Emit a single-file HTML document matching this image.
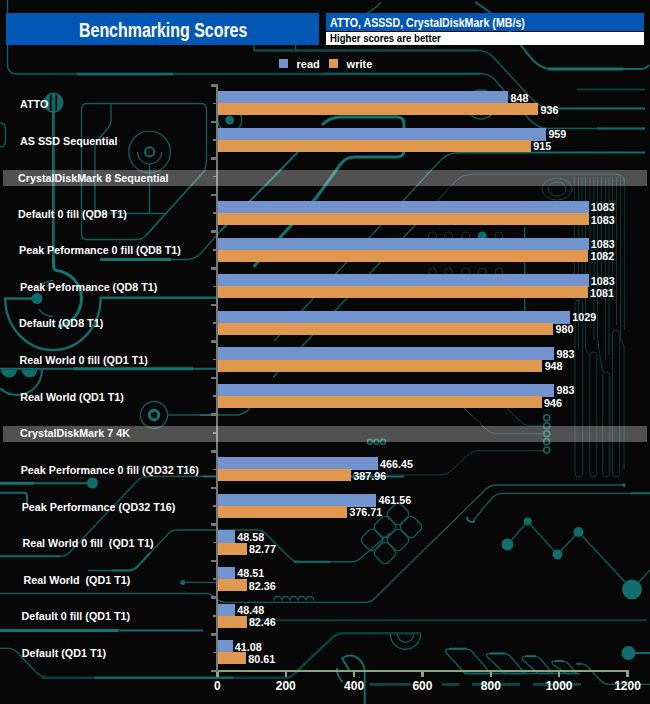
<!DOCTYPE html>
<html><head><meta charset="utf-8"><title>Benchmarking Scores</title>
<style>
html,body{margin:0;padding:0;background:#080707;}
body{width:650px;height:704px;position:relative;overflow:hidden;font-family:"Liberation Sans",sans-serif;color:#fff;font-weight:bold;}
#bg{position:absolute;left:0;top:0;width:650px;height:704px;}
.abs{position:absolute;}
.hdr1{position:absolute;left:6px;top:13px;width:313px;height:32px;background:#0358b6;}
.hdr1 span{position:absolute;left:73.3px;top:5.5px;font-size:20px;line-height:23px;white-space:nowrap;transform-origin:0 50%;transform:scaleX(0.797);}
.hdr2{position:absolute;left:325.5px;top:13px;width:318px;height:18px;background:#0358b6;}
.hdr2 span{position:absolute;left:4px;top:2.5px;font-size:12.5px;line-height:14px;white-space:nowrap;transform-origin:0 50%;transform:scaleX(0.851);}
.hdr3{position:absolute;left:325.5px;top:32px;width:318px;height:13px;background:#fff;color:#000;}
.hdr3 span{position:absolute;left:4px;top:-0.5px;font-size:11.5px;line-height:13px;white-space:nowrap;transform-origin:0 50%;transform:scaleX(0.837);}
.lg{position:absolute;width:8.5px;height:8.5px;top:59px;}
.lgt{position:absolute;font-size:11px;line-height:13px;top:57.5px;white-space:nowrap;}
.band{position:absolute;left:3px;width:644.3px;height:15.6px;background:rgba(255,255,255,0.30);}
.bt{position:absolute;font-size:10.75px;line-height:13px;white-space:nowrap;}
.lbl{position:absolute;font-size:10.75px;line-height:13px;white-space:nowrap;}
.val{position:absolute;font-size:10.75px;line-height:13px;white-space:nowrap;}
.bar{position:absolute;left:218px;height:12.15px;}
.r{background:#7294ce;}
.w{background:#e0974e;}
.yax{position:absolute;left:215.7px;top:84px;width:2.7px;height:587.5px;background:#787878;}
.tk{position:absolute;left:211px;width:5px;background:#787878;}
.xax{position:absolute;left:216px;top:669.7px;width:413px;height:2.6px;background:#8aa67c;}
.xt{position:absolute;top:672px;width:2.5px;height:4.9px;background:#8aa67c;}
.xl{position:absolute;top:680px;width:60px;text-align:center;font-size:12px;line-height:13px;}
</style></head><body>
<svg id="bg" width="650" height="704" viewBox="0 0 650 704">
<style>
.a{fill:none;stroke:#115c5c;stroke-width:1.35}
.a2{fill:none;stroke:#0d4444;stroke-width:1}
.b{fill:none;stroke:#126c6c;stroke-width:2}
.c{fill:none;stroke:#137474;stroke-width:3}
.d{fill:none;stroke:#0b3f3f;stroke-width:2}
.f{fill:#116c6c;stroke:none}
</style>
<!-- frame top-left -->
<path class="a" d="M7.5 0V64Q7.5 74 17.500 74"/>
<path class="d" style="stroke-width:2.7;stroke:#0c4a4a" d="M15 74H480"/>
<path class="b" style="stroke-width:2.7" d="M77 74H173"/>
<path class="a" d="M254 45V50.500M295.500 45V50.500"/>
<path class="a" d="M367 13Q375 9 381 2"/>
<!-- top right curves -->
<path class="b" d="M475 2Q495 14 514 36Q524 50 533 60Q541 69 552 69H640Q646 69 649 65"/><path class="c" d="M548 69H623"/>
<path class="d" style="stroke-width:2.7;stroke:#0c4a4a" d="M254 50.500H478"/><path class="a" d="M478 50.500Q487 50.500 493 57L531 98Q540 108.500 552 108.500"/><path class="b" d="M552 108.500H645"/>
<path class="a" d="M325 73.500H480Q489 73.500 495 80L528 118Q537 128.500 548 128.500H645"/>
<path class="b" d="M597 128.500H645"/>
<path class="d" d="M577 89.500H645"/>
<path class="b" d="M456 152.500H645"/>
<circle class="a" cx="481" cy="104.500" r="14.500"/>
<!-- ATTO circle + vertical -->
<circle cx="53.500" cy="102.600" r="9.300" style="fill:#136a6a;stroke:#136a6a;stroke-width:1"/>
<path d="M50.700 93.500V111.500M56.300 93.500V111.500" style="stroke:#080707;stroke-width:1.700;fill:none"/>
<circle cx="53.500" cy="102.600" r="9.300" style="fill:none;stroke:#136a6a;stroke-width:1.5"/>
<path class="b" style="stroke-width:2.8;stroke:#116464" d="M53.400 93V258"/>
<path class="a" d="M0 123Q5.500 123 5.500 129V141Q5.500 147 0 147"/>
<!-- hdd shape -->
<path class="a" d="M87 103.500H201Q206.500 103.500 206.500 109V157Q206.500 165 204.800 170.500L146 235.500Q142.500 239.500 137 239.500H87Q81.500 239.500 81.500 234V109Q81.500 103.500 87 103.500Z"/><path class="a" style="stroke-width:1.6" d="M204.800 170.500L146 235.500"/>
<path class="a" d="M111 103.500V121Q111 125 108 128L98 140Q95 143 95 148V208Q95 213.500 100 213.500H165.500"/>
<path class="a" d="M149.500 164V213.500"/>
<circle class="a" cx="149.600" cy="151.900" r="20.800"/>
<path class="a" d="M137.600 151.900A12 12 0 0 0 161.600 151.900"/>
<circle class="b" cx="149.600" cy="151.900" r="4.600"/>
<!-- big arcs left -->
<path class="c" d="M53.500 257V266Q53.500 270 57 270.400A28.400 28.400 0 0 1 58 326.500"/>
<path class="b" style="stroke-width:2.4" d="M217 297.700H100.600A47.700 52 0 0 1 5.200 298.500H36"/>
<circle class="f" cx="37" cy="298.500" r="5.500"/>
<path class="a" d="M53.500 280.500A18 18 0 0 0 40 287M39 309A18 18 0 0 0 53.500 316.500"/>
<!-- line G -->
<path class="a" d="M171 259.500H186Q196 259.500 203 251L220 231.500"/><path class="b" d="M220 231.500L298 152"/>
<path class="c" d="M100 259.500H171"/>
<!-- line H -->
<path class="b" d="M0 368.800H217"/>
<path class="c" d="M73.500 368.800H193"/>
<path class="f" d="M1 369.500A8 8 0 0 0 17 369.500ZM21.800 369.500A7.800 8 0 0 0 37.400 369.500Z"/>
<path class="b" d="M42 370A25 25 0 0 1 0 388.300"/>
<!-- circle J -->
<circle class="a" cx="154" cy="415" r="13.500"/>
<circle class="c" cx="154" cy="415" r="4.700"/>
<path class="a" d="M167.500 415H237Q245 414 250 408"/>
<path class="b" d="M200 415H217"/>
<!-- K L -->
<path class="c" d="M0 483.200H34"/>
<path class="b" d="M34 483.200H88"/>
<circle class="f" cx="92.400" cy="483" r="5.500"/>
<path class="b" d="M0 492.700H24Q27 492.700 27 496V503"/>
<!-- M -->
<path class="a" d="M0 556.300H60Q66 556.300 70 552L138 480Q142 476.400 148 476.400H404"/>
<path class="b" d="M0 556.300H60"/>
<path class="b" d="M203 476.400H217M350 476.400H404"/>
<!-- N -->
<path class="a" d="M88 570.500H128Q133.700 570.500 138 566L168 534Q172 530 178 530H258Q263 530 267 535L289 557Q293.700 561.700 300 561.700H352Q357 561.700 362 557L390 533"/>
<path class="b" d="M111.700 570.500H128Q133.700 570.500 138 566L150 553"/>
<path class="b" d="M293.700 561.700H330"/>
<!-- O -->
<circle class="f" cx="182.700" cy="582.400" r="2.500"/>
<path class="a" d="M182.700 582.400H217"/>
<!-- P -->
<path class="a" d="M0 593.500H205Q212 593.500 215 598Q220 602.300 227 602.300H366Q371 602.300 375 598L486 489Q491 485 497 485H624"/>
<path class="a" d="M273.700 600.500a4 4 0 0 1 8 0a4 4 0 0 1 8 0a4 4 0 0 1 8 0a4 4 0 0 1 8 0a4 4 0 0 1 8 0"/>
<!-- Q -->
<path class="c" d="M0 630.400H118.400"/>
<path class="b" d="M118.400 630.400H203"/>
<!-- line 620 -->
<path class="d" d="M248 620.300H647"/>
<!-- R -->
<path class="a" d="M0 648.400H8Q14 648.400 18 653L36 672Q42 677.800 50 677.800H95"/>
<path class="d" style="stroke-width:2.6" d="M42 677.800H285Q291 677.800 295 673L332 638Q337 633.300 343 633.300H421"/>
<path class="b" d="M95 677.800H233"/>
<!-- semicircle 405 -->
<path class="a" d="M390.300 634A15.200 15.200 0 0 0 420.700 634M397.300 634A8.200 8.200 0 0 0 413.700 634"/>
<!-- arch 352 -->
<path class="b" d="M342 658Q352 652 360 660Q364.700 665 364.700 672V704"/>
<path class="b" d="M337 668Q337 677 343 682"/>
<path class="b" d="M342 658L349 670"/>
<!-- dashes 684 -->
<path class="d" style="stroke-width:2.6;stroke:#0c4a4a" d="M369.500 684.400H411M442 684.400H459.500M472 684.400H520M533 684.400H581"/>
<!-- parallelograms -->
<path class="a" d="M449 648.800H466Q469.500 648.800 472 651.500L491 673.500H465L446.500 653Q443.500 648.800 449 648.800Z"/>
<path class="a" d="M490 653.500H504Q507.500 653.500 510 656L525 673.500H505L487.500 657Q485 653.500 490 653.500Z"/>
<path class="a" d="M525.500 656.300H535Q538 656.300 540.500 659L553 673.500H538L523 660Q520.500 656.300 525.500 656.300Z"/>
<path class="a" d="M554.500 661H562.500Q565.500 661 568 663.500L577 673.500H566L552.500 664Q550.500 661 554.500 661Z"/>
<path class="a" d="M465 673.500H580"/>
<path class="b" d="M449 648.800H467M490 653.500H505M525.500 656.300H536M554.500 661H563M576.500 663.800H582"/>
<path class="a" d="M576.500 663.800H582Q585 663.800 588 667L600 680Q604 684.300 610 684.300H650"/>
<!-- zigzag dots -->
<path class="a" d="M507.500 544.500L527.700 521.600L557.500 554.500L578.500 532L632 589.500L650 570"/>
<circle class="f" cx="527.700" cy="521.600" r="4"/>
<circle class="f" cx="507.500" cy="544.500" r="6"/>
<circle class="f" cx="557.500" cy="554.500" r="5"/>
<circle class="f" cx="578.500" cy="532" r="5"/>
<circle class="f" cx="632" cy="589.500" r="10"/>
<circle class="f" cx="628.500" cy="653" r="7"/>
<path class="b" d="M628.500 653H650"/>
<!-- rings column -->
<g class="b" style="stroke-width:1.500"><circle cx="546.700" cy="417.700" r="3"/><circle cx="546.700" cy="425.700" r="3"/><circle cx="546.700" cy="433.700" r="3"/><circle cx="546.700" cy="441.700" r="3"/><circle cx="546.700" cy="450" r="3"/></g>
<path class="a2" d="M464 408L486 429Q490.700 433.700 497 433.700H543M507 408L520 421Q524 425.700 530 425.700H543M543 450.700H478Q472 450.700 468 455L452 470Q447 475 440 475H325"/>
<path class="a" d="M473 521L491 499Q496 493.300 504 493.300H645"/><path class="b" d="M467 517A5 5 0 0 0 475 521"/>
<circle class="f" cx="624" cy="485" r="1.800"/>
<path class="b" d="M631 493.300H650"/>
<!-- vertical lines right -->
<path class="a2" style="stroke:#0c3636" d="M574.4 177V300 M578.3 177V300 M582 177V300 M585.5 177V300 M590 177V300 M594 177V300 M597.5 177V300 M601.5 177V300 M605.6 177V300 M609 177V300 M612.5 177V300 M616.5 177V300 M620.5 177V300 M624.4 177V300"/>
<path class="a2" style="stroke:#0c3a3a" d="M575 303.85A3.8500000000000227 3.8500000000000227 0 0 1 582.7 303.85V473.15A3.8500000000000227 3.8500000000000227 0 0 1 575 473.15Z M589.8 355.55A3.5500000000000114 3.5500000000000114 0 0 1 596.9 355.55V473.45A3.5500000000000114 3.5500000000000114 0 0 1 589.8 473.45Z M602.6 375.55A3.5500000000000114 3.5500000000000114 0 0 1 609.7 375.55V473.45A3.5500000000000114 3.5500000000000114 0 0 1 602.6 473.45Z M612.5 333.55A3.5500000000000114 3.5500000000000114 0 0 1 619.6 333.55V473.45A3.5500000000000114 3.5500000000000114 0 0 1 612.5 473.45Z M578.4 300V350M585.5 300V345Q585.5 352 589.8 356M594 300V340M597.5 300V335Q598 345 602.6 372M605.6 300V360M609 300V355M616.5 300V325M620.5 300V340L624 346V470M624.4 300V330"/>
<path class="a2" d="M574 174.400H616Q624.400 174.400 624.400 183"/>
<path class="a2" d="M430 208L456 181Q462 174.400 472 174.400H574"/>
<ellipse class="a2" cx="557" cy="189" rx="15" ry="11"/><ellipse class="a2" cx="557" cy="189" rx="9" ry="7"/>
<!-- small circles rows -->
<g class="a2" style="stroke:#0b3535"><circle cx="432.500" cy="236" r="4"/><circle cx="448.500" cy="236" r="4"/><circle cx="465.700" cy="236" r="4"/><circle cx="499" cy="236" r="4"/><circle cx="432.500" cy="272" r="4"/><circle cx="448.500" cy="272" r="4"/><circle cx="465.700" cy="272" r="4"/><circle cx="482.300" cy="272" r="4"/><circle cx="499" cy="272" r="4"/></g>
<circle class="f" cx="482.300" cy="236" r="4.500"/>
<path class="a" d="M524.700 227V315"/>
<!-- small dots in band 2 -->
<g class="b" style="stroke-width:1.500"><circle cx="370" cy="441.700" r="2.500"/><circle cx="376.500" cy="441.700" r="2.500"/><circle cx="383" cy="441.700" r="2.500"/></g>
<!-- knot -->
<g class="a"><rect x="-9" y="-9" width="18" height="18" rx="5" transform="translate(372 540) rotate(45)"/><rect x="-9" y="-9" width="18" height="18" rx="5" transform="translate(385 527) rotate(45)"/><rect x="-9" y="-9" width="18" height="18" rx="5" transform="translate(398 514) rotate(45)"/><rect x="-9" y="-9" width="18" height="18" rx="5" transform="translate(385 553) rotate(45)"/><rect x="-9" y="-9" width="18" height="18" rx="5" transform="translate(398 540) rotate(45)"/><rect x="-9" y="-9" width="18" height="18" rx="5" transform="translate(411 527) rotate(45)"/></g>
<!-- diagonals behind bars -->
<path class="c" d="M253.700 266.700L317 196.700L340 165Q345 157 355 157H397Q404 157 404 150V124Q404 117 397 117H340Q330 117 322 125"/>
<path class="a" d="M274 341L342 267.300L437 164Q447 152.500 458 152.500M273 377.500L375.600 267.300L434 205"/>
<!-- blob near axis -->
<circle class="f" cx="229.700" cy="120" r="4.500"/>
<circle class="a" cx="229.700" cy="120" r="12"/>
</svg>

<div class="hdr1"><span>Benchmarking Scores</span></div>
<div class="hdr2"><span>ATTO, ASSSD, CrystalDiskMark (MB/s)</span></div>
<div class="hdr3"><span>Higher scores are better</span></div>
<div class="lg" style="left:279px;background:#7294ce"></div><div class="lgt" style="left:296.6px">read</div>
<div class="lg" style="left:329px;background:#e0974e"></div><div class="lgt" style="left:346.6px">write</div>
<div class="xax"></div>
<div class="yax"></div>
<div class="lbl" style="left:20px;top:98.00px">ATTO</div>
<div class="bar r" style="top:91.15px;width:290.26px;height:12.75px"></div>
<div class="bar w" style="top:103.30px;width:320.33px"></div>
<div class="val" style="left:510.46px;top:91.62px">848</div>
<div class="val" style="left:540.53px;top:103.78px">936</div>
<div class="lbl" style="left:20px;top:134.60px">AS SSD Sequential</div>
<div class="bar r" style="top:127.75px;width:328.19px;height:12.75px"></div>
<div class="bar w" style="top:139.90px;width:313.16px"></div>
<div class="val" style="left:548.39px;top:128.23px">959</div>
<div class="val" style="left:533.36px;top:140.38px">915</div>
<div class="lbl" style="left:18px;top:207.80px">Default 0 fill (QD8 T1)</div>
<div class="bar r" style="top:200.95px;width:370.56px;height:12.75px"></div>
<div class="bar w" style="top:213.10px;width:370.56px"></div>
<div class="val" style="left:590.76px;top:201.43px">1083</div>
<div class="val" style="left:590.76px;top:213.57px">1083</div>
<div class="lbl" style="left:19px;top:244.40px">Peak Peformance 0 fill (QD8 T1)</div>
<div class="bar r" style="top:237.55px;width:370.56px;height:12.75px"></div>
<div class="bar w" style="top:249.70px;width:370.22px"></div>
<div class="val" style="left:590.76px;top:238.03px">1083</div>
<div class="val" style="left:590.42px;top:250.18px">1082</div>
<div class="lbl" style="left:20px;top:281.00px">Peak Peformance (QD8 T1)</div>
<div class="bar r" style="top:274.15px;width:370.56px;height:12.75px"></div>
<div class="bar w" style="top:286.30px;width:369.88px"></div>
<div class="val" style="left:590.76px;top:274.62px">1083</div>
<div class="val" style="left:590.08px;top:286.77px">1081</div>
<div class="lbl" style="left:19px;top:316.60px">Default (QD8 T1)</div>
<div class="bar r" style="top:310.75px;width:352.11px;height:12.75px"></div>
<div class="bar w" style="top:322.90px;width:335.37px"></div>
<div class="val" style="left:572.31px;top:311.22px">1029</div>
<div class="val" style="left:555.57px;top:323.37px">980</div>
<div class="lbl" style="left:19.6px;top:354.20px">Real World 0 fill (QD1 T1)</div>
<div class="bar r" style="top:347.35px;width:336.39px;height:12.75px"></div>
<div class="bar w" style="top:359.50px;width:324.43px"></div>
<div class="val" style="left:556.59px;top:347.82px">983</div>
<div class="val" style="left:544.63px;top:359.97px">948</div>
<div class="lbl" style="left:20.2px;top:390.80px">Real World (QD1 T1)</div>
<div class="bar r" style="top:383.95px;width:336.39px;height:12.75px"></div>
<div class="bar w" style="top:396.10px;width:323.75px"></div>
<div class="val" style="left:556.59px;top:384.43px">983</div>
<div class="val" style="left:543.95px;top:396.57px">946</div>
<div class="lbl" style="left:20.7px;top:464.00px">Peak Performance 0 fill (QD32 T16)</div>
<div class="bar r" style="top:457.15px;width:159.89px;height:12.75px"></div>
<div class="bar w" style="top:469.30px;width:133.07px"></div>
<div class="val" style="left:380.09px;top:457.62px">466.45</div>
<div class="val" style="left:353.27px;top:469.77px">387.96</div>
<div class="lbl" style="left:21.7px;top:500.60px">Peak Performance (QD32 T16)</div>
<div class="bar r" style="top:493.75px;width:158.22px;height:12.75px"></div>
<div class="bar w" style="top:505.90px;width:129.22px"></div>
<div class="val" style="left:378.42px;top:494.23px">461.56</div>
<div class="val" style="left:349.42px;top:506.38px">376.71</div>
<div class="lbl" style="left:22.4px;top:537.20px">Real World 0 fill  (QD1 T1)</div>
<div class="bar r" style="top:530.35px;width:17.10px;height:12.75px"></div>
<div class="bar w" style="top:542.50px;width:28.78px"></div>
<div class="val" style="left:237.30px;top:530.82px">48.58</div>
<div class="val" style="left:248.98px;top:542.98px">82.77</div>
<div class="lbl" style="left:23.6px;top:573.80px">Real World  (QD1 T1)</div>
<div class="bar r" style="top:566.95px;width:17.08px;height:12.75px"></div>
<div class="bar w" style="top:579.10px;width:28.64px"></div>
<div class="val" style="left:237.28px;top:567.42px">48.51</div>
<div class="val" style="left:248.84px;top:579.58px">82.36</div>
<div class="lbl" style="left:21.4px;top:610.40px">Default 0 fill (QD1 T1)</div>
<div class="bar r" style="top:603.55px;width:17.07px;height:12.75px"></div>
<div class="bar w" style="top:615.70px;width:28.68px"></div>
<div class="val" style="left:237.27px;top:604.02px">48.48</div>
<div class="val" style="left:248.88px;top:616.18px">82.46</div>
<div class="lbl" style="left:21.8px;top:647.00px">Default (QD1 T1)</div>
<div class="bar r" style="top:640.15px;width:14.54px;height:12.75px"></div>
<div class="bar w" style="top:652.30px;width:28.04px"></div>
<div class="val" style="left:234.74px;top:640.62px">41.08</div>
<div class="val" style="left:248.24px;top:652.78px">80.61</div>
<div class="tk" style="top:84.00px;height:2.6px"></div>
<div class="tk" style="top:102.60px;height:1.6px;left:213.3px;width:3px"></div>
<div class="tk" style="top:120.60px;height:2.6px"></div>
<div class="tk" style="top:139.20px;height:1.6px;left:213.3px;width:3px"></div>
<div class="tk" style="top:157.20px;height:2.6px"></div>
<div class="tk" style="top:175.80px;height:1.6px;left:213.3px;width:3px"></div>
<div class="tk" style="top:193.80px;height:2.6px"></div>
<div class="tk" style="top:212.40px;height:1.6px;left:213.3px;width:3px"></div>
<div class="tk" style="top:230.40px;height:2.6px"></div>
<div class="tk" style="top:249.00px;height:1.6px;left:213.3px;width:3px"></div>
<div class="tk" style="top:267.00px;height:2.6px"></div>
<div class="tk" style="top:285.60px;height:1.6px;left:213.3px;width:3px"></div>
<div class="tk" style="top:303.60px;height:2.6px"></div>
<div class="tk" style="top:322.20px;height:1.6px;left:213.3px;width:3px"></div>
<div class="tk" style="top:340.20px;height:2.6px"></div>
<div class="tk" style="top:358.80px;height:1.6px;left:213.3px;width:3px"></div>
<div class="tk" style="top:376.80px;height:2.6px"></div>
<div class="tk" style="top:395.40px;height:1.6px;left:213.3px;width:3px"></div>
<div class="tk" style="top:413.40px;height:2.6px"></div>
<div class="tk" style="top:432.00px;height:1.6px;left:213.3px;width:3px"></div>
<div class="tk" style="top:450.00px;height:2.6px"></div>
<div class="tk" style="top:468.60px;height:1.6px;left:213.3px;width:3px"></div>
<div class="tk" style="top:486.60px;height:2.6px"></div>
<div class="tk" style="top:505.20px;height:1.6px;left:213.3px;width:3px"></div>
<div class="tk" style="top:523.20px;height:2.6px"></div>
<div class="tk" style="top:541.80px;height:1.6px;left:213.3px;width:3px"></div>
<div class="tk" style="top:559.80px;height:2.6px"></div>
<div class="tk" style="top:578.40px;height:1.6px;left:213.3px;width:3px"></div>
<div class="tk" style="top:596.40px;height:2.6px"></div>
<div class="tk" style="top:615.00px;height:1.6px;left:213.3px;width:3px"></div>
<div class="tk" style="top:633.00px;height:2.6px"></div>
<div class="tk" style="top:651.60px;height:1.6px;left:213.3px;width:3px"></div>
<div class="tk" style="top:669.60px;height:2.6px"></div>
<div class="xt" style="left:216.20px"></div>
<div class="xl" style="left:187.40px">0</div>
<div class="xt" style="left:284.55px"></div>
<div class="xl" style="left:255.75px">200</div>
<div class="xt" style="left:352.90px"></div>
<div class="xl" style="left:324.10px">400</div>
<div class="xt" style="left:421.25px"></div>
<div class="xl" style="left:392.45px">600</div>
<div class="xt" style="left:489.60px"></div>
<div class="xl" style="left:460.80px">800</div>
<div class="xt" style="left:557.95px"></div>
<div class="xl" style="left:529.15px">1000</div>
<div class="xt" style="left:626.30px"></div>
<div class="xl" style="left:597.50px">1200</div>
<div class="band" style="top:170.1px"></div><div class="bt" style="left:18px;top:171.5px">CrystalDiskMark 8 Sequential</div>
<div class="band" style="top:426.3px"></div><div class="bt" style="left:20px;top:426.7px">CrystalDiskMark 7 4K</div>
</body></html>
